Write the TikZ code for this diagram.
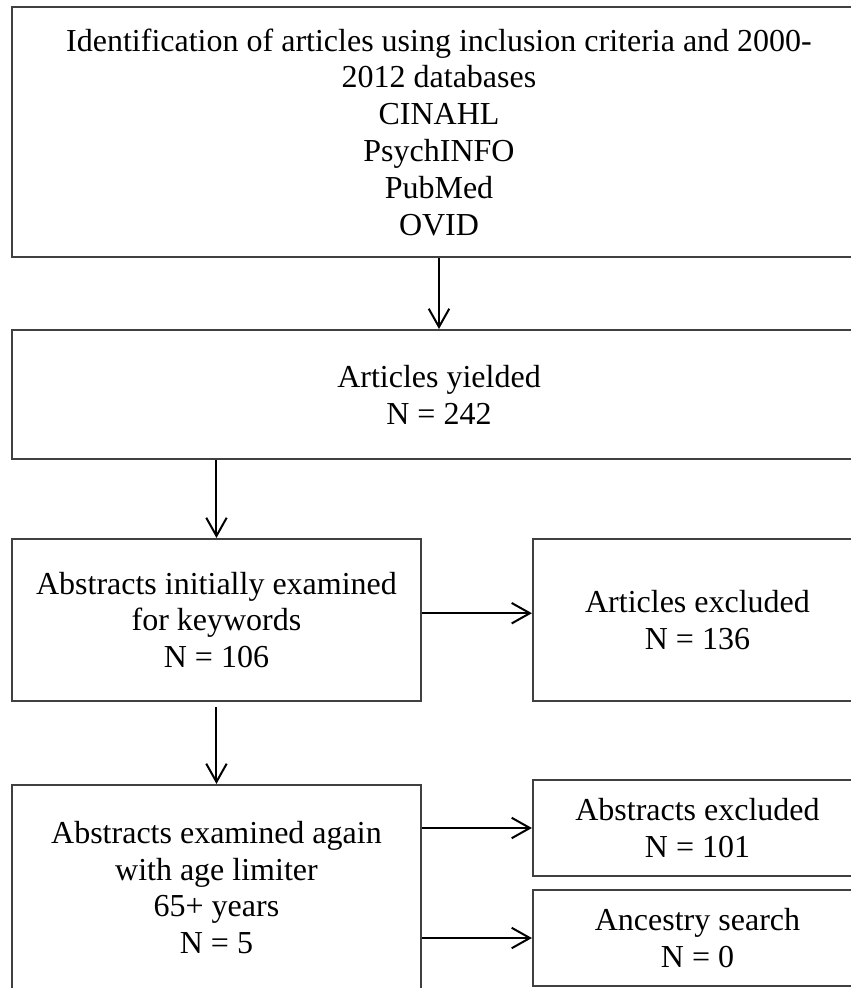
\documentclass[tikz,border=0pt]{standalone}
\usepackage{fontspec}
\setmainfont{Liberation Serif}
\usepackage{tikz}
\usetikzlibrary{arrows.meta}
\tikzset{box/.style = {draw = black!75, line width = 0.8pt, align = center,
                       inner sep = 0pt,
                       font = \fontsize{12}{13.8}\selectfont}}
\tikzset{flow/.style = {-{Straight Barb[length = 2.4mm, width = 2.7mm]},
                        line width = 0.75pt}}

\begin{document}
\begin{tikzpicture}
      \useasboundingbox (0, 0) rectangle (11.216, -13.022);
      \clip (0, 0) rectangle (11.216, -13.022);
      \node [box, minimum width = 11.256cm, minimum height = 3.295cm] (ident) at (5.786, -1.740)
            {Identification of articles using inclusion criteria and 2000-\\2012 databases\\CINAHL\\PsychINFO\\PubMed\\OVID};
      \node [box, minimum width = 11.256cm, minimum height = 1.700cm] (yielded) at (5.786, -5.200)
            {Articles yielded\\N = 242};
      \node [box, minimum width = 5.391cm, minimum height = 2.135cm] (initial) at (2.853, -8.172)
            {Abstracts initially examined\\for keywords\\N = 106};
      \node [box, minimum width = 4.336cm, minimum height = 2.135cm] (artexcl) at (9.193, -8.172)
            {Articles excluded\\N = 136};
      \node [box, minimum width = 5.391cm, minimum height = 2.702cm] (again) at (2.853, -11.697)
            {Abstracts examined again\\with age limiter\\65+ years\\N = 5};
      \node [box, minimum width = 4.336cm, minimum height = 1.265cm] (absexcl) at (9.193, -10.913)
            {Abstracts excluded\\N = 101};
      \node [box, minimum width = 4.336cm, minimum height = 1.265cm] (ancestry) at (9.193, -12.363)
            {Ancestry search\\N = 0};
      \draw [flow] (ident.south) -- (yielded.north);
      \draw [flow] (initial.north |- yielded.south) -- (initial.north);
      \draw [flow] ([yshift = 0.09cm]initial.east) -- ([yshift = 0.09cm]artexcl.west);
      \draw [flow] ([yshift = -0.07cm]initial.south) -- (again.north);
      \draw [flow] (again.east |- absexcl.west) -- (absexcl.west);
      \draw [flow] (again.east |- ancestry.west) -- (ancestry.west);
\end{tikzpicture}
\end{document}
